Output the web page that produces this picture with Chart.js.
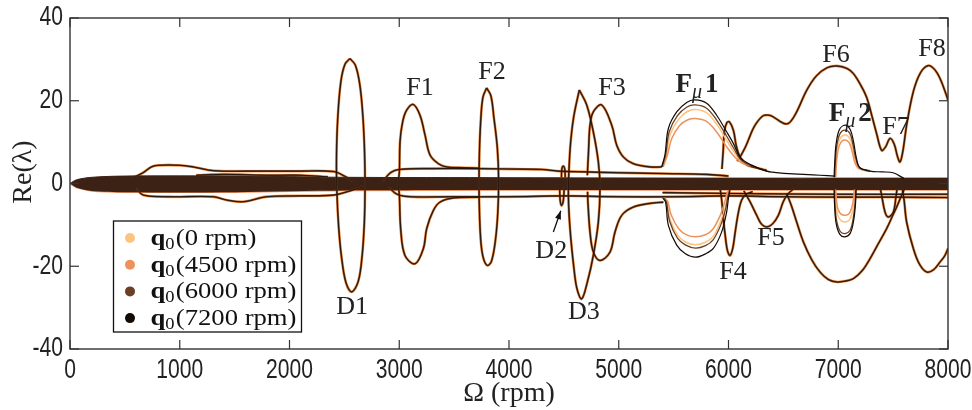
<!DOCTYPE html>
<html>
<head>
<meta charset="utf-8">
<script src="https://cdn.jsdelivr.net/npm/chart.js@4.4.0/dist/chart.umd.min.js"></script>
<style>
  html, body { margin: 0; padding: 0; background: #fff; }
  #wrap { width: 972px; height: 410px; }
</style>
</head>
<body>
<div id="wrap"><canvas id="eig" width="972" height="410"></canvas></div>
<script>
// axis ticks
var speedTicks = [0, 1000, 2000, 3000, 4000, 5000, 6000, 7000, 8000];
var reTicks = [-40, -20, 0, 20, 40];
var seriesLabels = ['0 rpm', '4500 rpm', '6000 rpm', '7200 rpm'];

// [speed (rpm), Re(lambda)] -- branches shared by all four q0
var bandTop = [[0, 0], [60, 0.9], [200, 1.5], [500, 1.8], [1500, 1.8], [2500, 1.5], [4000, 1.4], [6000, 1.3], [8000, 1.3]];
var bandBot = [[0, 0], [60, -1.0], [200, -1.8], [500, -2.1], [1500, -2.1], [2500, -1.7], [4000, -1.6], [6000, -1.6], [8000, -1.6]];
var earlyUpper = [[560, 1.2], [665, 2.6], [740, 4.0], [805, 4.4], [1000, 4.4], [1124, 4.0], [1306, 3.1], [1700, 3.0], [2100, 3.0], [2400, 2.9], [2500, 1.8], [2581, 0.4]];
var earlyUpper2 = [[1150, 2.0], [1400, 2.2], [1800, 2.0], [2100, 2.0], [2350, 1.6]];
var earlyLower = [[600, -1.2], [668, -2.8], [900, -3.2], [1306, -3.2], [1428, -4.0], [1580, -4.4], [1792, -3.2], [2100, -3.0], [2400, -2.8], [2550, -1.8], [2670, -0.8]];
var sideUpper = [[2850, 0.5], [2920, 2.6], [3000, 3.4], [3300, 3.6], [3700, 3.6], [4000, 3.5], [4300, 3.4], [4450, 3.0], [4700, 2.8], [5000, 2.6], [5400, 2.4], [5800, 2.2], [6000, 1.8]];
var sideLower = [[2900, -0.8], [2980, -2.6], [3100, -3.2], [3500, -3.2], [4000, -3.2], [4500, -3.0], [5000, -3.2], [5500, -3.2], [6000, -3.0], [6500, -3.2], [7000, -3.3], [7500, -3.3], [8000, -3.4]];
var sideLower2 = [[5400, -2.2], [6000, -2.4], [7000, -2.6], [8000, -2.6]];
var d1Loop = [[2551, 30.2], [2600, 28.6], [2640, 24.0], [2668, 16.5], [2684, 7.5], [2688, -1.0], [2682, -9.3], [2662, -17.4], [2627, -23.6], [2567, -26.2], [2515, -24.0], [2475, -18.0], [2448, -10.5], [2432, -2.0], [2428, 6.0], [2440, 16.0], [2468, 24.6], [2505, 28.8], [2551, 30.2]];
var f1Upper = [[2990, 0.3], [3001, 2.8], [3007, 10.1], [3031, 14.9], [3067, 17.7], [3128, 19.1], [3189, 16.5], [3235, 11.7], [3280, 6.9], [3356, 4.8], [3432, 4.0], [3600, 3.8], [3727, 3.7]];
var f1Lower = [[2990, -0.3], [3001, -2.8], [3013, -10.9], [3052, -17.4], [3144, -19.4], [3220, -15.7], [3250, -10.9], [3311, -6.5], [3371, -4.5], [3493, -3.5], [3727, -3.3]];
var f2Loop = [[3796, 23.1], [3835, 21.2], [3862, 16.0], [3894, 8.5], [3905, 1.0], [3898, -7.0], [3875, -14.0], [3840, -18.8], [3803, -19.8], [3768, -18.2], [3745, -14.5], [3732, -8.0], [3727, -1.0], [3730, 7.0], [3742, 15.0], [3762, 20.8], [3796, 23.1]];
var d2Lower = [[4462, -1.5], [4466, -4.0], [4478, -5.3], [4492, -4.6], [4500, -2.5], [4503, -1.0]];
var d2Upper = [[4478, 1.5], [4482, 3.6], [4495, 4.2], [4508, 3.5], [4512, 1.5]];
var d3Loop = [[4641, 22.6], [4708, 19.0], [4768, 12.5], [4814, 5.2], [4829, -1.2], [4814, -9.3], [4768, -17.4], [4714, -23.8], [4662, -27.9], [4620, -25.5], [4592, -20.6], [4556, -10.9], [4541, -2.8], [4547, 3.6], [4562, 10.1], [4592, 16.5], [4641, 22.6]];
var f3Upper = [[4714, 2.0], [4725, 8.0], [4738, 14.1], [4768, 17.3], [4844, 19.0], [4936, 14.1], [4981, 9.3], [5042, 6.4], [5133, 4.8], [5285, 4.0], [5391, 4.0]];
var f3Lower = [[4716, -2.0], [4719, -4.5], [4738, -11.7], [4768, -16.5], [4829, -18.6], [4920, -16.6], [4966, -11.7], [5027, -7.7], [5133, -5.7], [5285, -4.8], [5406, -4.5]];
var f4Hump = [[5940, 3.5], [5952, 8.0], [5962, 12.5], [5985, 14.7], [6008, 14.9], [6045, 12.8], [6070, 9.2], [6105, 6.4], [6160, 4.6], [6223, 4.0], [6348, 3.2]];
var f4Trough = [[5925, -1.5], [5938, -4.0], [5955, -9.0], [5968, -12.1], [5990, -16.2], [6014, -17.4], [6040, -15.5], [6059, -12.1], [6090, -7.0], [6120, -4.0], [6160, -2.6], [6220, -2.0]];
var f5Trough = [[6140, -1.8], [6196, -4.4], [6257, -7.7], [6300, -9.8], [6348, -10.5], [6400, -9.8], [6454, -7.7], [6499, -4.4], [6545, -2.4], [6600, -1.2]];
var f6Upper = [[6080, 5.4], [6105, 6.4], [6150, 8.6], [6181, 10.5], [6220, 13.0], [6257, 14.7], [6317, 16.4], [6370, 16.5], [6408, 16.1], [6470, 15.0], [6520, 14.4], [6560, 14.8], [6621, 17.3], [6712, 22.5], [6800, 26.0], [6900, 28.0], [6990, 28.4], [7080, 27.8], [7137, 26.6], [7200, 24.0], [7259, 20.8], [7310, 16.0], [7350, 12.0], [7395, 8.0], [7430, 8.8], [7472, 10.9], [7510, 9.5], [7540, 6.5], [7563, 5.2], [7590, 8.0], [7623, 14.1], [7684, 22.2], [7750, 26.8], [7821, 28.5], [7880, 27.5], [7927, 25.4], [7970, 22.5], [8000, 20.2]];
var f6Lower = [[6530, -2.4], [6575, -5.5], [6621, -9.3], [6682, -14.1], [6760, -18.5], [6834, -21.4], [6910, -23.2], [6986, -23.8], [7060, -23.6], [7137, -23.0], [7220, -21.0], [7289, -18.2], [7360, -14.8], [7441, -10.9], [7500, -7.5], [7532, -5.7], [7578, -2.8], [7600, -1.5]];
var f7Trough = [[7385, -1.5], [7395, -2.8], [7426, -6.9], [7456, -8.1], [7502, -6.9], [7526, -3.2], [7535, -1.5]];
var f8Lower = [[7585, -1.5], [7600, -4.0], [7623, -9.3], [7684, -15.7], [7740, -19.5], [7806, -21.4], [7870, -20.8], [7927, -19.0], [7970, -17.5], [8000, -15.7]];

// F_mu1 / F_mu2 branches, one per q0
var mu1Up_0 = [[5400, 4.0], [5435, 7.0], [5468, 11.8], [5545, 15.5], [5625, 17.4], [5700, 17.9], [5800, 17.1], [5890, 14.4], [5980, 10.6], [6050, 7.6], [6110, 5.5], [6200, 4.3]];
var mu1Up_4500 = [[5405, 4.0], [5445, 7.0], [5482, 10.8], [5555, 14.0], [5630, 15.4], [5700, 15.7], [5800, 15.0], [5890, 12.5], [5980, 9.0], [6050, 6.6], [6120, 5.0], [6200, 4.2]];
var mu1Up_6000 = [[5395, 4.0], [5428, 7.0], [5460, 12.5], [5535, 16.4], [5622, 18.5], [5697, 19.0], [5800, 18.2], [5890, 15.4], [5980, 11.6], [6050, 8.4], [6110, 5.8], [6200, 4.4], [6378, 2.8]];
var mu1Up_7200 = [[5390, 4.0], [5421, 6.9], [5452, 13.3], [5528, 17.3], [5619, 19.6], [5695, 20.2], [5801, 19.4], [5892, 16.5], [5983, 12.5], [6044, 9.7], [6105, 6.4], [6200, 4.6], [6378, 2.8], [6834, 2.0], [6970, 1.8]];
var mu1Lo_0 = [[5415, -3.5], [5440, -4.5], [5468, -8.7], [5540, -12.6], [5612, -14.2], [5700, -14.8], [5790, -14.2], [5860, -12.8], [5925, -9.4], [5970, -5.6], [5990, -3.0], [6005, -1.6]];
var mu1Lo_4500 = [[5420, -3.5], [5448, -4.5], [5478, -7.6], [5548, -11.0], [5618, -12.4], [5700, -12.9], [5790, -12.4], [5855, -11.1], [5920, -8.0], [5962, -4.8], [5985, -2.5], [6000, -1.6]];
var mu1Lo_6000 = [[5410, -3.5], [5435, -4.5], [5462, -9.0], [5535, -13.2], [5610, -14.9], [5700, -15.6], [5790, -15.0], [5860, -13.6], [5930, -10.0], [5975, -6.0], [5995, -3.0], [6010, -1.6]];
var mu1Lo_7200 = [[5400, -3.5], [5427, -4.5], [5452, -10.1], [5528, -14.9], [5604, -16.9], [5700, -17.8], [5790, -17.0], [5862, -15.7], [5938, -11.7], [5983, -6.9], [6000, -3.5], [6014, -1.6]];
var mu2Up_0 = [[6972, 1.5], [6978, 5.0], [6992, 8.6], [7020, 11.0], [7062, 11.7], [7105, 10.9], [7132, 8.4], [7155, 5.6], [7192, 3.7], [7289, 3.0]];
var mu2Up_4500 = [[6977, 1.5], [6984, 5.0], [6998, 8.0], [7025, 10.0], [7062, 10.5], [7100, 9.8], [7128, 7.6], [7150, 5.2], [7188, 3.6], [7289, 2.9]];
var mu2Up_6000 = [[6967, 1.5], [6973, 5.0], [6986, 9.0], [7015, 12.0], [7062, 12.9], [7108, 12.0], [7136, 9.2], [7160, 6.0], [7195, 3.8], [7289, 3.1]];
var mu2Up_7200 = [[6962, 1.5], [6968, 5.0], [6980, 9.5], [7010, 13.0], [7062, 14.1], [7110, 13.0], [7140, 10.0], [7165, 6.2], [7198, 3.8], [7289, 3.0], [7400, 2.8], [7500, 2.6], [7600, 1.2]];
var mu2Lo_0 = [[6972, -1.5], [6977, -4.5], [6992, -7.4], [7022, -8.9], [7062, -9.3], [7102, -8.8], [7130, -6.8], [7146, -4.0], [7152, -1.5]];
var mu2Lo_4500 = [[6978, -1.5], [6984, -4.0], [6998, -6.2], [7026, -7.4], [7062, -7.7], [7098, -7.3], [7124, -5.7], [7140, -3.5], [7146, -1.5]];
var mu2Lo_6000 = [[6966, -1.5], [6970, -5.0], [6985, -9.0], [7018, -11.6], [7062, -12.1], [7108, -11.3], [7136, -8.5], [7153, -4.8], [7159, -1.5]];
var mu2Lo_7200 = [[6962, -1.5], [6966, -5.0], [6980, -9.5], [7015, -12.3], [7062, -12.9], [7110, -12.0], [7140, -9.0], [7157, -5.0], [7163, -1.5]];

// branch labels, placed in data coordinates
var branchNames = ['D1', 'F1', 'F2', 'D2', 'D3', 'F3', 'F4', 'F5', 'F6', 'F7', 'F8'];
var branchSpots = [[2570, -30.0], [3189, 23.1], [3845, 27.0], [4385, -16.3], [4683, -31.2], [4938, 23.1], [6041, -21.5], [6387, -13.2], [6980, 31.0], [7526, 13.6], [7854, 32.4]];

var sharedCurves = [earlyUpper, earlyUpper2, earlyLower, sideUpper, sideLower, sideLower2, d1Loop, f1Upper, f1Lower, f2Loop,
  d2Lower, d2Upper, d3Loop, f3Upper, f3Lower, f4Hump, f4Trough, f5Trough, f6Upper, f6Lower, f7Trough, f8Lower];
var muCurves = [
  [mu1Up_0, mu1Lo_0, mu2Up_0, mu2Lo_0],
  [mu1Up_4500, mu1Lo_4500, mu2Up_4500, mu2Lo_4500],
  [mu1Up_6000, mu1Lo_6000, mu2Up_6000, mu2Lo_6000],
  [mu1Up_7200, mu1Lo_7200, mu2Up_7200, mu2Lo_7200]
];

// styles
var seriesColors = ['#fdc47e', '#ef915c', '#6b3f25', '#140a04'];
var sharedWidths = [2.8, 2.3, 1.6, 0.8];
var muWidths = [1.5, 1.5, 1.3, 1.2];
var serif = '"Liberation Serif", "DejaVu Serif", serif';
var sans = '"Liberation Sans Narrow", "Liberation Sans", sans-serif';

function toXY(arr) {
  return arr.map(function (p) { return { x: p[0], y: p[1] }; });
}

var datasets = [];
// dense band round Re = 0
datasets.push({ data: toXY(bandTop), showLine: true, pointRadius: 0, borderColor: '#3b2214', borderWidth: 1,
  backgroundColor: '#3b2214', fill: '+1', tension: 0.3, order: 2.5 });
datasets.push({ data: toXY(bandBot), showLine: true, pointRadius: 0, borderColor: '#ef915c', borderWidth: 1.4,
  fill: false, tension: 0.3, order: 2.5 });

for (var s = 0; s < seriesLabels.length; s++) {
  sharedCurves.forEach(function (c) {
    datasets.push({
      label: seriesLabels[s], data: toXY(c), showLine: true, pointRadius: 0, fill: false,
      borderColor: seriesColors[s], borderWidth: sharedWidths[s], tension: 0.35, order: 4 - s
    });
  });
  muCurves[s].forEach(function (c) {
    datasets.push({
      label: seriesLabels[s], data: toXY(c), showLine: true, pointRadius: 0, fill: false,
      borderColor: seriesColors[s], borderWidth: muWidths[s], tension: 0.35, order: 1 - s * 0.1
    });
  });
}

function seg(ctx, x1, y1, x2, y2) {
  ctx.beginPath(); ctx.moveTo(x1, y1); ctx.lineTo(x2, y2); ctx.stroke();
}

// condensed tick text (the figure uses a narrow sans)
function narrowText(ctx, txt, px, py, align) {
  var k = 0.78;
  ctx.save();
  ctx.font = '27px ' + sans;
  ctx.textBaseline = 'middle';
  ctx.textAlign = 'left';
  var w = ctx.measureText(txt).width * k;
  var left = align === 'right' ? px - w : px - w / 2;
  ctx.translate(left, py);
  ctx.scale(k, 1);
  ctx.fillText(txt, 0, 0);
  ctx.restore();
}

var decorations = {
  id: 'decorations',
  afterDraw: function (chart) {
    var ctx = chart.ctx, a = chart.chartArea, x = chart.scales.x, y = chart.scales.y;
    ctx.save();

    // box and inward ticks
    ctx.strokeStyle = '#333';
    ctx.lineWidth = 1.4;
    ctx.strokeRect(a.left, a.top, a.right - a.left, a.bottom - a.top);
    ctx.lineWidth = 1.2;
    speedTicks.forEach(function (v) {
      var px = x.getPixelForValue(v);
      seg(ctx, px, a.bottom, px, a.bottom - 9);
      seg(ctx, px, a.top, px, a.top + 9);
    });
    reTicks.forEach(function (v) {
      var py = y.getPixelForValue(v);
      seg(ctx, a.left, py, a.left + 9, py);
      seg(ctx, a.right, py, a.right - 9, py);
    });

    // tick labels
    ctx.fillStyle = '#222';
    speedTicks.forEach(function (v) {
      narrowText(ctx, String(v), x.getPixelForValue(v), a.bottom + 22, 'center');
    });
    reTicks.forEach(function (v) {
      narrowText(ctx, String(v), a.left - 7, y.getPixelForValue(v), 'right');
    });

    // branch labels
    ctx.fillStyle = '#222';
    ctx.font = '26px ' + serif;
    ctx.textAlign = 'center';
    ctx.textBaseline = 'middle';
    branchNames.forEach(function (n, i) {
      ctx.fillText(n, x.getPixelForValue(branchSpots[i][0]), y.getPixelForValue(branchSpots[i][1]));
    });

    // bold F_mu labels
    function fmu(num, vx, vy) {
      var cx = x.getPixelForValue(vx), cy = y.getPixelForValue(vy);
      ctx.textAlign = 'left';
      ctx.textBaseline = 'alphabetic';
      ctx.font = 'bold 27px ' + serif;
      var wF = ctx.measureText('F').width, wN = ctx.measureText(num).width;
      ctx.font = 'italic 20px ' + serif;
      var wM = ctx.measureText('\u03bc').width;
      var left = cx - (wF + wM + wN + 3) / 2, base = cy + 9;
      ctx.font = 'bold 27px ' + serif;
      ctx.fillText('F', left, base);
      ctx.font = 'italic 20px ' + serif;
      ctx.fillText('\u03bc', left + wF, base + 6);
      ctx.font = 'bold 27px ' + serif;
      ctx.fillText(num, left + wF + wM + 3, base);
    }
    fmu('1', 5713, 24.2);
    fmu('2', 7110, 17.3);

    // arrow to D2
    var tx = x.getPixelForValue(4404), ty = y.getPixelForValue(-11.7);
    var hx = x.getPixelForValue(4472), hy = y.getPixelForValue(-6.6);
    ctx.strokeStyle = '#111';
    ctx.lineWidth = 1.3;
    seg(ctx, tx, ty, hx, hy);
    var ang = Math.atan2(hy - ty, hx - tx);
    ctx.fillStyle = '#111';
    ctx.beginPath();
    ctx.moveTo(hx, hy);
    ctx.lineTo(hx - 9 * Math.cos(ang - 0.35), hy - 9 * Math.sin(ang - 0.35));
    ctx.lineTo(hx - 9 * Math.cos(ang + 0.35), hy - 9 * Math.sin(ang + 0.35));
    ctx.closePath();
    ctx.fill();

    // legend box
    var bx = a.left + 43.5, by = a.top + 203, bw = 188, bh = 111;
    ctx.fillStyle = '#fff';
    ctx.fillRect(bx, by, bw, bh);
    ctx.strokeStyle = '#111';
    ctx.lineWidth = 1.3;
    ctx.strokeRect(bx, by, bw, bh);
    var rowH = 26.7, textX = bx + 37;
    var longest = 0;
    var parts = seriesLabels.map(function (lab) {
      var t = '(' + lab + ')';
      ctx.font = 'bold 23px ' + serif;
      var wq = ctx.measureText('q').width;
      ctx.font = '16px ' + serif;
      var w0 = ctx.measureText('0').width;
      ctx.font = '23px ' + serif;
      var wt = ctx.measureText(t).width;
      longest = Math.max(longest, wq + w0 + wt + 1);
      return { t: t, wq: wq, w0: w0 };
    });
    var k = 146 / longest;
    parts.forEach(function (p, i) {
      var cy = by + 17 + i * rowH;
      ctx.fillStyle = seriesColors[i];
      ctx.beginPath();
      ctx.arc(bx + 16.5, cy, 5, 0, Math.PI * 2);
      ctx.fill();
      ctx.save();
      ctx.translate(textX, cy + 7);
      ctx.scale(k, 1);
      ctx.fillStyle = '#111';
      ctx.textAlign = 'left';
      ctx.textBaseline = 'alphabetic';
      ctx.font = 'bold 23px ' + serif;
      ctx.fillText('q', 0, 0);
      ctx.font = '16px ' + serif;
      ctx.fillText('0', p.wq, 4);
      ctx.font = '23px ' + serif;
      ctx.fillText(p.t, p.wq + p.w0 + 1, 0);
      ctx.restore();
    });

    // axis titles
    ctx.fillStyle = '#222';
    ctx.textAlign = 'center';
    ctx.textBaseline = 'alphabetic';
    ctx.font = '28px ' + serif;
    ctx.fillText('\u03a9 (rpm)', (a.left + a.right) / 2, 401);
    ctx.save();
    ctx.translate(31, 172);
    ctx.rotate(-Math.PI / 2);
    ctx.fillText('Re(\u03bb)', 0, 0);
    ctx.restore();

    ctx.restore();
  }
};

new Chart(document.getElementById('eig').getContext('2d'), {
  type: 'scatter',
  data: { datasets: datasets },
  options: {
    responsive: false,
    animation: false,
    events: [],
    devicePixelRatio: 1,
    layout: { padding: { top: 18, right: 24, bottom: 0, left: 0 } },
    plugins: { legend: { display: false }, tooltip: { enabled: false } },
    scales: {
      x: {
        type: 'linear', min: 0, max: 8000,
        afterBuildTicks: function (sc) { sc.ticks = speedTicks.map(function (v) { return { value: v }; }); },
        afterFit: function (sc) { sc.height = 61; sc.paddingLeft = 0; sc.paddingRight = 0; },
        grid: { display: false }, border: { display: false },
        ticks: { display: false }
      },
      y: {
        type: 'linear', min: -40, max: 40,
        afterBuildTicks: function (sc) { sc.ticks = reTicks.map(function (v) { return { value: v }; }); },
        afterFit: function (sc) { sc.width = 70; sc.paddingTop = 0; sc.paddingBottom = 0; },
        grid: { display: false }, border: { display: false },
        ticks: { display: false }
      }
    }
  },
  plugins: [decorations]
});
</script>
</body>
</html>
